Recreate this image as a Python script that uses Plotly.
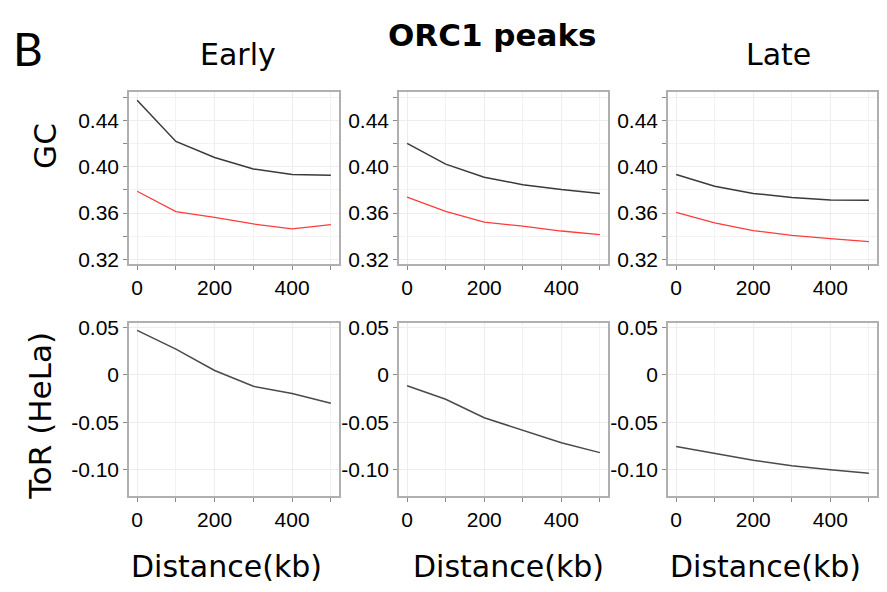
import plotly.graph_objects as go

W, H = 887, 592

distance_kb = [0, 100, 200, 300, 400, 500]
panels = ["Early", "Middle", "Late"]

gc_black = {
    "Early": [0.4575, 0.4219, 0.4080, 0.3981, 0.3933, 0.3927],
    "Middle": [0.4203, 0.4023, 0.3910, 0.3845, 0.3803, 0.3769],
    "Late": [0.3934, 0.3832, 0.3770, 0.3734, 0.3713, 0.3711],
}
gc_red = {
    "Early": [0.3789, 0.3613, 0.3562, 0.3506, 0.3463, 0.3500],
    "Middle": [0.3738, 0.3614, 0.3521, 0.3487, 0.3445, 0.3414],
    "Late": [0.3606, 0.3515, 0.3449, 0.3407, 0.3379, 0.3353],
}
tor_hela = {
    "Early": [0.0466, 0.0269, 0.0045, -0.0121, -0.0197, -0.0300],
    "Middle": [-0.0116, -0.0257, -0.0452, -0.0582, -0.0715, -0.0818],
    "Late": [-0.0753, -0.0828, -0.0897, -0.0955, -0.0999, -0.1034],
}

gc_ticks = [0.32, 0.36, 0.40, 0.44]
gc_ticktext = ["0.32", "0.36", "0.40", "0.44"]
tor_ticks = [0.05, 0, -0.05, -0.10]
tor_ticktext = ["0.05", "0", "-0.05", "-0.10"]
x_ticks = [0, 200, 400]

# pixel layout of panels
col_px = [(129, 339), (399, 608), (668, 877)]
row_px = [(86.5, 263), (323, 500)]

def xd(a, b):
    return [a / W, b / W]

def yd(top, bot):
    return [1 - bot / H, 1 - top / H]

fig = go.Figure()

frame = dict(showline=True, mirror=True, linecolor="#b0b0b0", linewidth=1.5,
             showgrid=True, gridcolor="#ededed", gridwidth=1, zeroline=False,
             ticks="outside", ticklen=4, tickcolor="#8a8a8a", tickwidth=1,
             tickfont=dict(family="Liberation Sans, Arial", size=21, color="#000"),
             fixedrange=True)

idx = 0
for r in range(2):
    for c, name in enumerate(panels):
        idx += 1
        xa = "x" if idx == 1 else f"x{idx}"
        ya = "y" if idx == 1 else f"y{idx}"
        xkey = "xaxis" if idx == 1 else f"xaxis{idx}"
        ykey = "yaxis" if idx == 1 else f"yaxis{idx}"
        if r == 0:
            fig.add_trace(go.Scatter(x=distance_kb, y=gc_black[name], mode="lines",
                                     line=dict(color="#3a3a3a", width=1.5),
                                     xaxis=xa, yaxis=ya, showlegend=False))
            fig.add_trace(go.Scatter(x=distance_kb, y=gc_red[name], mode="lines",
                                     line=dict(color="#ff3b3b", width=1.3),
                                     xaxis=xa, yaxis=ya, showlegend=False))
            yopts = dict(range=[0.3158, 0.465], tickvals=gc_ticks, ticktext=gc_ticktext,
                         minor=dict(dtick=0.02, tick0=0.32, ticks="outside", ticklen=4,
                                    tickcolor="#8a8a8a", showgrid=True, gridcolor="#f2f2f2"))
        else:
            fig.add_trace(go.Scatter(x=distance_kb, y=tor_hela[name], mode="lines",
                                     line=dict(color="#4a4a4a", width=1.5),
                                     xaxis=xa, yaxis=ya, showlegend=False))
            yopts = dict(range=[-0.1274, 0.0545], tickvals=tor_ticks, ticktext=tor_ticktext)
        fig.layout[xkey] = dict(frame, domain=xd(*col_px[c]), range=[-21, 521],
                                tickvals=x_ticks, anchor=ya,
                                minor=dict(dtick=100, tick0=0, ticks="outside", ticklen=4,
                                           tickcolor="#8a8a8a", showgrid=True,
                                           gridcolor="#f2f2f2"))
        fig.layout[ykey] = dict(frame, domain=yd(*row_px[r]), anchor=xa, **yopts)

anns = []
def ann(text, px, py, size, bold=False, angle=0, family="DejaVu Sans"):
    anns.append(dict(text=f"<b>{text}</b>" if bold else text, x=px / W, y=1 - py / H,
                     xref="paper", yref="paper", showarrow=False, textangle=angle,
                     xanchor="center", yanchor="middle",
                     font=dict(family=family, size=size, color="#000")))

ann("B", 28, 42, 46, family="Lato")
ann("ORC1 peaks", 492, 29, 31, bold=True)
ann("Early", 238, 49, 30)
ann("Late", 778, 49, 30)
ann("GC", 45, 142, 31, angle=-90)
ann("ToR (HeLa)", 40, 418, 31, angle=-90)
for cx in [226, 508, 765]:
    ann("Distance(kb)", cx, 572, 30)

fig.update_layout(width=W, height=H, margin=dict(l=0, r=0, t=0, b=0),
                  paper_bgcolor="white", plot_bgcolor="white", annotations=anns,
                  showlegend=False)

fig.write_html("out.html")
